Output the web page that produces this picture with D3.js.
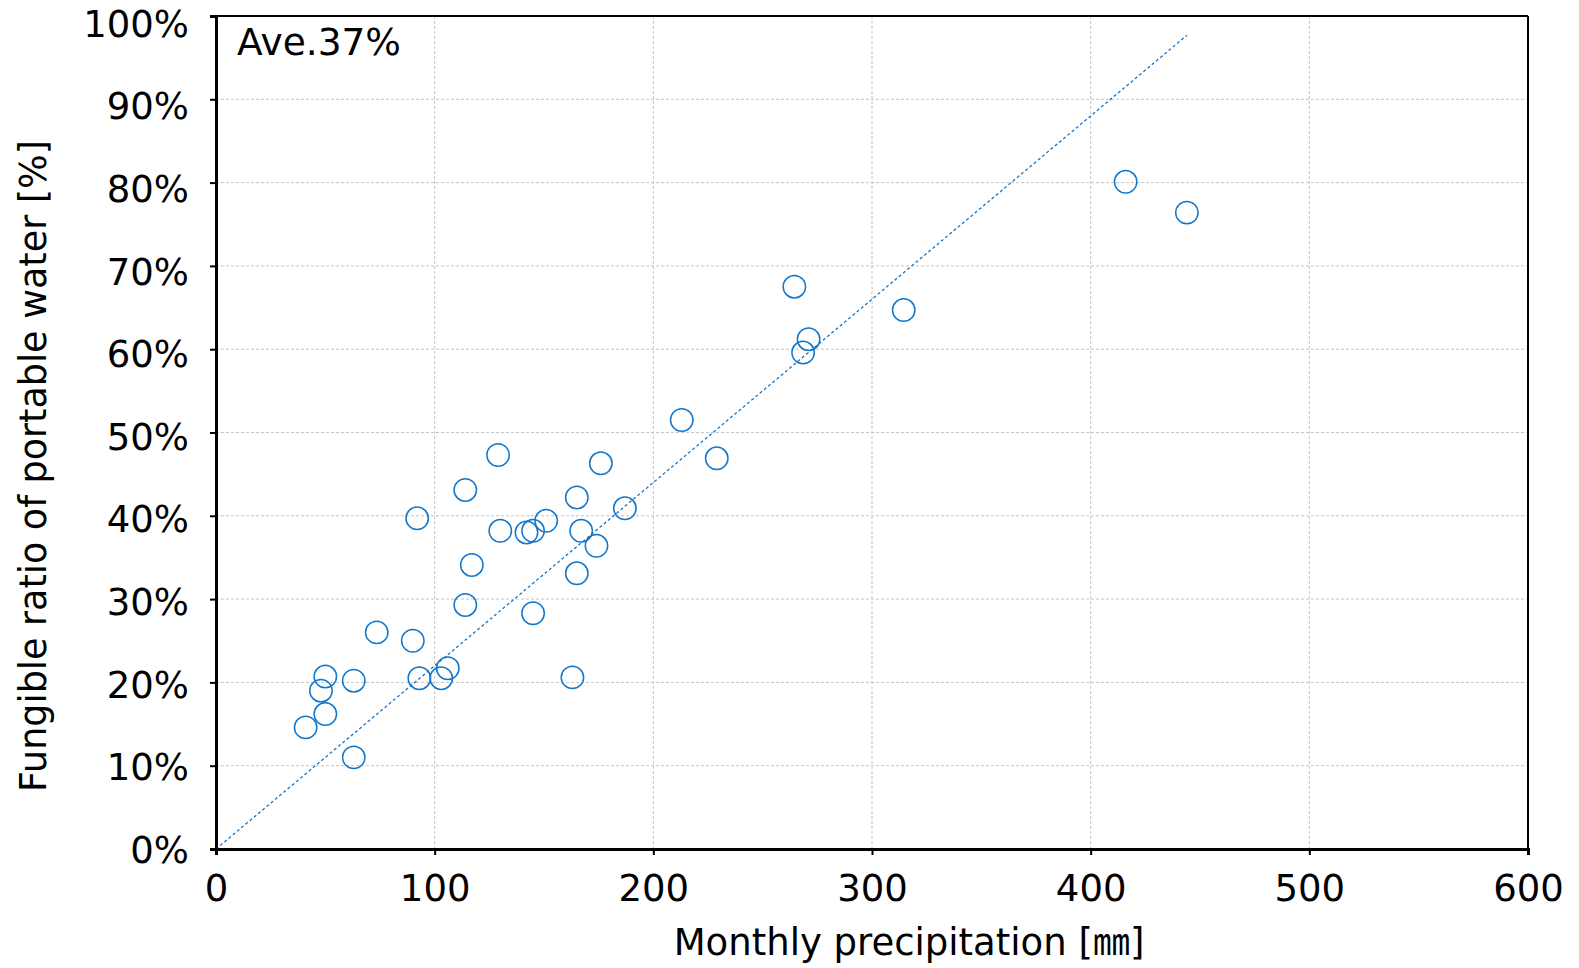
<!DOCTYPE html>
<html>
<head>
<meta charset="utf-8">
<script src="https://cdn.jsdelivr.net/npm/d3@7"></script>
<style>
  html, body { margin: 0; padding: 0; background: #fff; }
  svg { display: block; }
  text { font-family: "DejaVu Sans", Verdana, sans-serif; fill: #000; }
</style>
</head>
<body>
<svg id="chart" width="1579" height="968"></svg>
<script>
// Monthly precipitation [mm] and fungible ratio of portable water [%]
const precipitation = [213, 129, 176, 114, 165, 187, 92, 151, 130, 142, 145, 167,
  174, 117, 165, 114, 145, 73.5, 90, 106, 93, 103, 163, 50, 63, 48, 50, 41, 63,
  416, 444, 264.5, 314.5, 271, 268.5, 229];
const ratio = [51.5, 47.3, 46.3, 43.1, 42.2, 40.9, 39.7, 39.4, 38.2, 38.0, 38.2, 38.2,
  36.4, 34.1, 33.1, 29.3, 28.3, 26.0, 25.0, 21.7, 20.5, 20.5, 20.6, 20.7, 20.2, 19.0, 16.2, 14.6, 11.0,
  80.1, 76.4, 67.5, 64.7, 61.2, 59.6, 46.9];

// Linear trend through the origin (% per mm) drawn up to the largest precipitation
const trendSlope = 0.22;
const trendRange = [0, 444];

const xTicks = [0, 100, 200, 300, 400, 500, 600];
const yTicks = [0, 10, 20, 30, 40, 50, 60, 70, 80, 90, 100];
const averageLabel = "Ave.37%";
const xTitle = "Monthly precipitation [";
const xUnit = "㎜";
const yTitle = "Fungible ratio of portable water [%]";

const blue = "#1177cc";
const fontSize = "37px";
const plot = { left: 216, right: 1528, top: 16, bottom: 849 };

const svg = d3.select("#chart");
const x = d3.scaleLinear().domain([0, 600]).range([plot.left, plot.right]);
const y = d3.scaleLinear().domain([0, 100]).range([plot.bottom, plot.top]);

// Grid
const grid = svg.append("g");
grid.selectAll("line.gx").data(xTicks.slice(1, -1)).join("line")
  .attr("x1", d => x(d)).attr("x2", d => x(d))
  .attr("y1", plot.top).attr("y2", plot.bottom)
  .attr("stroke", "#c4c4c4").attr("stroke-width", 1).attr("stroke-dasharray", "3,2");
grid.selectAll("line.gy").data(yTicks.slice(1, -1)).join("line")
  .attr("x1", plot.left).attr("x2", plot.right)
  .attr("y1", d => y(d)).attr("y2", d => y(d))
  .attr("stroke", "#c4c4c4").attr("stroke-width", 1).attr("stroke-dasharray", "3,2");

// Frame (top and right)
svg.append("line").attr("x1", plot.left).attr("x2", plot.right)
  .attr("y1", plot.top).attr("y2", plot.top).attr("stroke", "#000").attr("stroke-width", 2);
svg.append("line").attr("x1", plot.right).attr("x2", plot.right)
  .attr("y1", plot.top).attr("y2", plot.bottom).attr("stroke", "#000").attr("stroke-width", 2);

// Trend line
svg.append("line")
  .attr("x1", x(trendRange[0])).attr("y1", y(trendSlope * trendRange[0]))
  .attr("x2", x(trendRange[1])).attr("y2", y(trendSlope * trendRange[1]))
  .attr("stroke", blue).attr("stroke-width", 1.3).attr("stroke-dasharray", "3,2.5");

// Points
svg.append("g").selectAll("circle").data(precipitation.map((p, i) => [p, ratio[i]])).join("circle")
  .attr("cx", d => x(d[0])).attr("cy", d => y(d[1])).attr("r", 11.2)
  .attr("fill", "none").attr("stroke", blue).attr("stroke-width", 1.5);

// Axes
const xAxis = svg.append("g").attr("transform", `translate(0,${plot.bottom})`)
  .call(d3.axisBottom(x).tickValues(xTicks).tickSize(6).tickPadding(20).tickFormat(d3.format("d")));
const yAxis = svg.append("g").attr("transform", `translate(${plot.left},0)`)
  .call(d3.axisLeft(y).tickValues(yTicks).tickSize(6).tickPadding(21).tickFormat(d => d + "%"));
[xAxis, yAxis].forEach(a => {
  a.select(".domain").attr("stroke", "#000").attr("stroke-width", 3);
  a.selectAll(".tick line").attr("stroke", "#000").attr("stroke-width", 2);
  a.selectAll("text").style("font-family", '"DejaVu Sans", Verdana, sans-serif')
    .style("font-size", fontSize).attr("fill", "#000");
});
// Tick labels sit a little lower toward the top of the axis
yAxis.selectAll(".tick text").attr("dy", d => (0.36 + 0.19 * d / 100) + "em");

// Titles
const xt = svg.append("text").attr("x", 909).attr("y", 955).attr("text-anchor", "middle")
  .style("font-size", fontSize);
xt.append("tspan").text(xTitle);
xt.append("tspan").style("font-family", '"Noto Sans CJK JP", sans-serif').text(xUnit);
xt.append("tspan").text("]");

svg.append("text").attr("transform", "translate(46,466) rotate(-90)")
  .attr("text-anchor", "middle").style("font-size", "36.5px").text(yTitle);

// Average annotation
svg.append("text").attr("x", 237).attr("y", 55).style("font-size", "37.5px").text(averageLabel);
</script>
</body>
</html>
